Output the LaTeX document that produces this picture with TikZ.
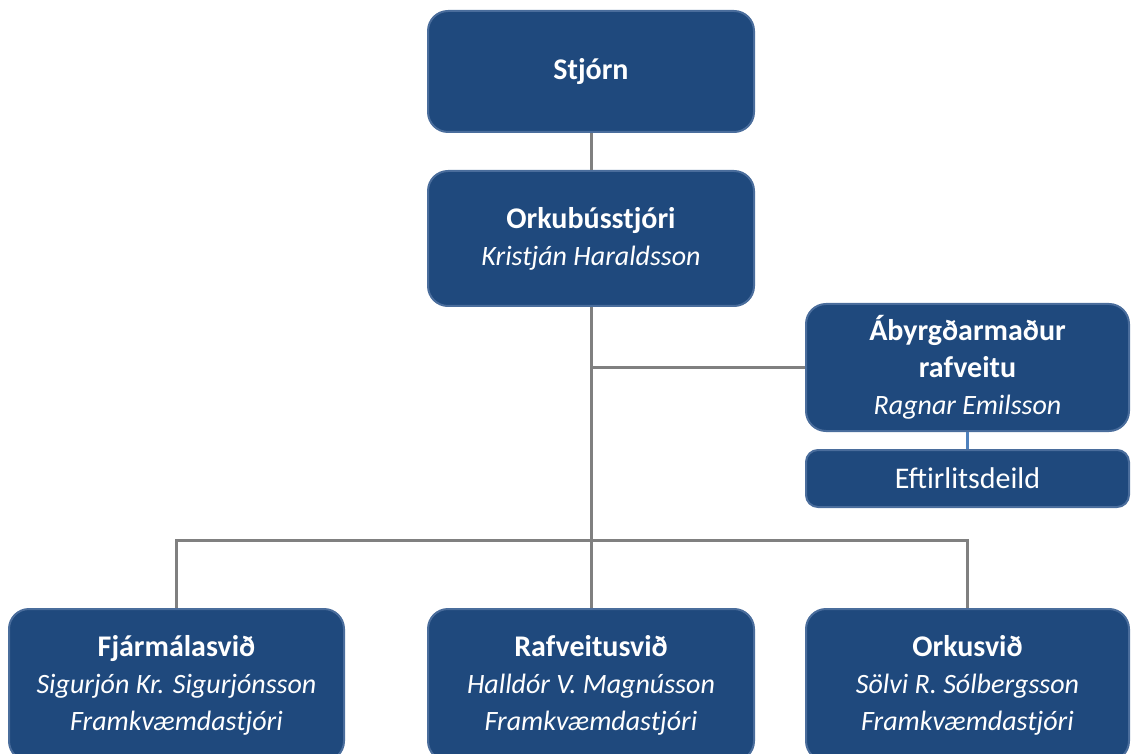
\documentclass[tikz,border=0pt]{standalone}
\usepackage{fontspec}
\setmainfont{Carlito}
\definecolor{boxblue}{HTML}{1F497D}
\definecolor{boxedge}{HTML}{4A6D9C}
\definecolor{linegray}{HTML}{808080}
\definecolor{linkblue}{HTML}{4F81BD}
\newcommand{\pname}[1]{{\fontsize{28}{37}\selectfont\itshape #1}}

\begin{document}
\begin{tikzpicture}[x=1pt,y=1pt,
    orgbox/.style={draw=boxedge,line width=2pt,fill=boxblue,rounded corners=20pt,
      text=white,align=center,inner sep=0pt,font=\fontsize{30}{37}\selectfont},
    conn/.style={draw=linegray,line width=3pt}]
      \useasboundingbox (0,0) rectangle (1131,753) ;
      \clip (0,0) rectangle (1131,753) ;
      % top of the chart
      \node[orgbox,minimum width=326,minimum height=121] (stjorn) at (591,681.5) %
      {\textbf{Stjórn}} ;
      \node[orgbox,minimum width=326,minimum height=135] (orku) at (591,514.5) %
      {\textbf{Orkubússtjóri}\\\pname{Kristján Haraldsson}} ;
      \node[orgbox,minimum width=323,minimum height=127] (abyrgd) at (967.5,385.5) %
      {\textbf{Ábyrgðarmaður}\\\textbf{rafveitu}\\\pname{Ragnar Emilsson}} ;
      \node[orgbox,rounded corners=12pt,minimum width=323,minimum height=57] %
      (eftir) at (967.5,274.5) {Eftirlitsdeild} ;
      % divisions
      \node[orgbox,minimum width=335,minimum height=152] (fjar) at (176.5,68) %
      {\textbf{Fjármálasvið}\\\pname{Sigurjón Kr. Sigurjónsson}\\\pname{Framkvæmdastjóri}} ;
      \node[orgbox,minimum width=326,minimum height=152] (rafv) at (591,68) %
      {\textbf{Rafveitusvið}\\\pname{Halldór V. Magnússon}\\\pname{Framkvæmdastjóri}} ;
      \node[orgbox,minimum width=323,minimum height=152] (orkusvid) at (967.5,68) %
      {\textbf{Orkusvið}\\\pname{Sölvi R. Sólbergsson}\\\pname{Framkvæmdastjóri}} ;
      \coordinate (bar) at (591,213) ;
      % connectors
      \draw[conn] (stjorn) -- (orku) ;
      \draw[conn] (orku) -- (rafv) ;
      \draw[conn] (orku.south |- abyrgd.west) -- (abyrgd.west) ;
      \draw[conn] (fjar.north) |- (bar) -| (orkusvid.north) ;
      \draw[linkblue,line width=3pt] (abyrgd) -- (eftir) ;
    \end{tikzpicture}
\end{document}
